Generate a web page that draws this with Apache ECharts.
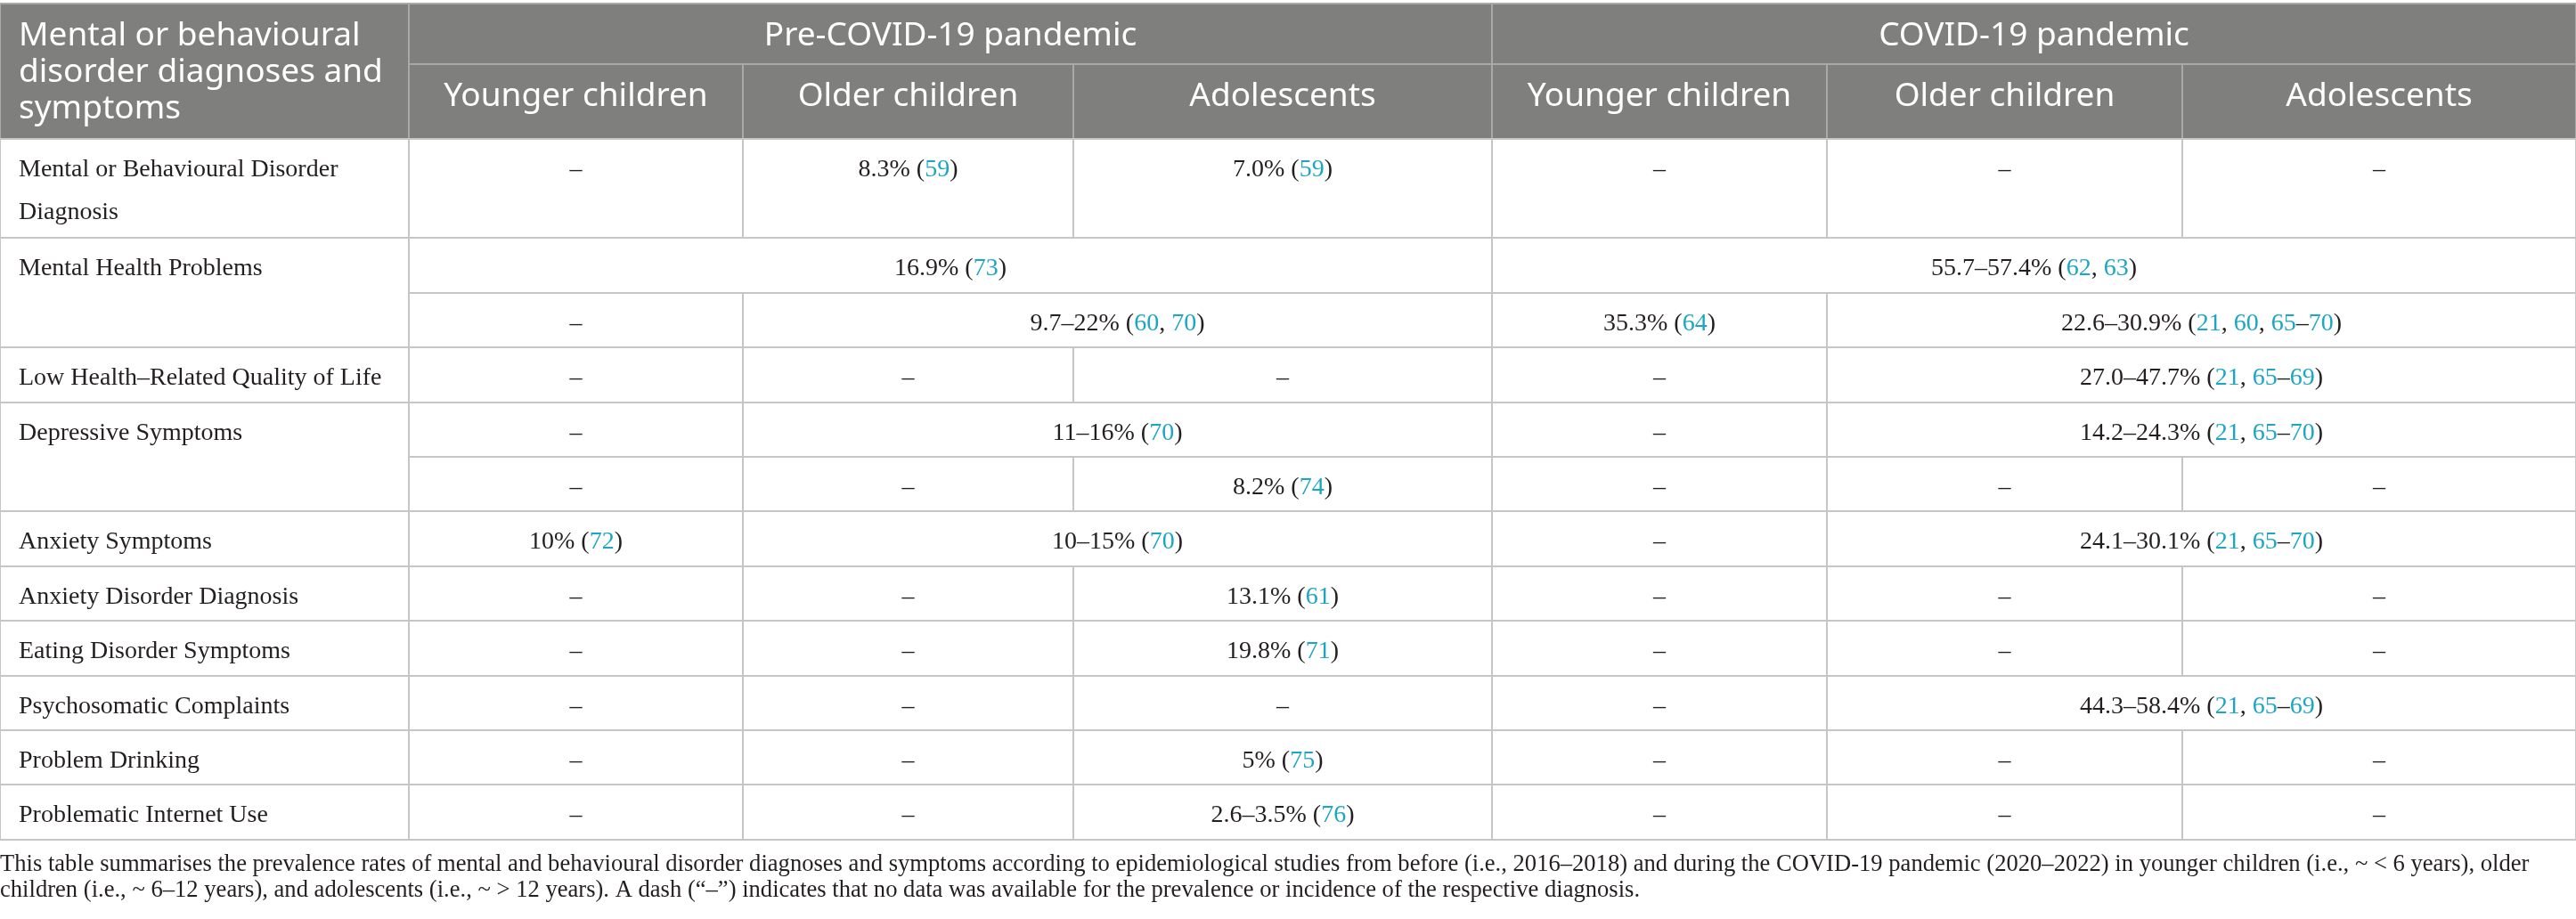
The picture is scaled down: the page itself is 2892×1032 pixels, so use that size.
<!DOCTYPE html>
<html>
<head>
<meta charset="utf-8">
<title>Prevalence of mental and behavioural disorders</title>
<script src="https://cdn.jsdelivr.net/npm/echarts@6/dist/echarts.min.js"></script>
<style>
    html, body { margin: 0; padding: 0; background: #fff; }
    #table-chart { width: 2892px; height: 1032px; }
</style>
</head>
<body>
<div id="table-chart"></div>
<script>
// table content
var periods = ['Pre-COVID-19 pandemic', 'COVID-19 pandemic'],
    ageGroups = ['Younger children', 'Older children', 'Adolescents'],
    cornerLabel = 'Mental or behavioural\ndisorder diagnoses and\nsymptoms',
    conditions = [
        'Mental or Behavioural Disorder\nDiagnosis',
        'Mental Health Problems',
        'Low Health\u2013Related Quality of Life',
        'Depressive Symptoms',
        'Anxiety Symptoms',
        'Anxiety Disorder Diagnosis',
        'Eating Disorder Symptoms',
        'Psychosomatic Complaints',
        'Problem Drinking',
        'Problematic Internet Use'
    ],
    conditionSpans = [1, 2, 1, 2, 1, 1, 1, 1, 1, 1];

// one entry per sub-row: [text, colspan]
var prevalenceRows = [
    [['–', 1], ['8.3% (59)', 1], ['7.0% (59)', 1], ['–', 1], ['–', 1], ['–', 1]],
    [['16.9% (73)', 3], ['55.7–57.4% (62, 63)', 3]],
    [['–', 1], ['9.7–22% (60, 70)', 2], ['35.3% (64)', 1], ['22.6–30.9% (21, 60, 65–70)', 2]],
    [['–', 1], ['–', 1], ['–', 1], ['–', 1], ['27.0–47.7% (21, 65–69)', 2]],
    [['–', 1], ['11–16% (70)', 2], ['–', 1], ['14.2–24.3% (21, 65–70)', 2]],
    [['–', 1], ['–', 1], ['8.2% (74)', 1], ['–', 1], ['–', 1], ['–', 1]],
    [['10% (72)', 1], ['10–15% (70)', 2], ['–', 1], ['24.1–30.1% (21, 65–70)', 2]],
    [['–', 1], ['–', 1], ['13.1% (61)', 1], ['–', 1], ['–', 1], ['–', 1]],
    [['–', 1], ['–', 1], ['19.8% (71)', 1], ['–', 1], ['–', 1], ['–', 1]],
    [['–', 1], ['–', 1], ['–', 1], ['–', 1], ['44.3–58.4% (21, 65–69)', 2]],
    [['–', 1], ['–', 1], ['5% (75)', 1], ['–', 1], ['–', 1], ['–', 1]],
    [['–', 1], ['–', 1], ['2.6–3.5% (76)', 1], ['–', 1], ['–', 1], ['–', 1]]
];

var captionLines = [
    'This table summarises the prevalence rates of mental and behavioural disorder diagnoses and symptoms according to epidemiological studies from before (i.e., 2016\u20132018) and during the COVID-19 pandemic (2020\u20132022) in younger children (i.e., ~ < 6 years), older',
    'children (i.e., ~ 6\u201312 years), and adolescents (i.e., ~ > 12 years). A dash (\u201c\u2013\u201d) indicates that no data was available for the prevalence or incidence of the respective diagnosis.'
];

// layout (axis units = px)
var colEdges = [0, 459, 834, 1205, 1675, 2051, 2450, 2892],
    headEdges = [4, 72, 156],
    rowEdges = [156, 267, 329, 390, 452, 513, 574, 636, 697, 759, 820, 881, 943];

var headFont = '37px "Noto Sans"',
    bodyFont = '28px "Liberation Serif"',
    headColor = '#7f807e',
    headLine = '#a9aaa8',
    bodyLine = '#c6c6c6',
    textColor = '#231f20',
    linkColor = '#1ba7c4';

var cells = [];

var addCell = function (x0, x1, y0, y1, text, kind) {
    cells.push({ value: [x0, x1, y0, y1], text: text, kind: kind });
};

// header
addCell(colEdges[0], colEdges[1], headEdges[0], headEdges[2], cornerLabel, 'corner');
periods.forEach(function (p, i) {
    addCell(colEdges[1 + i * 3], colEdges[4 + i * 3], headEdges[0], headEdges[1], p, 'head');
    ageGroups.forEach(function (g, j) {
        addCell(colEdges[1 + i * 3 + j], colEdges[2 + i * 3 + j], headEdges[1], headEdges[2], g, 'head');
    });
});

// body
var sub = 0;
conditions.forEach(function (c, i) {
    addCell(colEdges[0], colEdges[1], rowEdges[sub], rowEdges[sub + conditionSpans[i]], c, 'label');
    sub += conditionSpans[i];
});
prevalenceRows.forEach(function (row, r) {
    var col = 1;
    row.forEach(function (cell) {
        addCell(colEdges[col], colEdges[col + cell[1]], rowEdges[r], rowEdges[r + 1], cell[0], 'value');
        col += cell[1];
    });
});

// colour the reference numbers inside the brackets
var richify = function (s) {
    return s.replace(/\(([^)]*)\)/, function (m, inner) {
        return '(' + inner.replace(/\d+/g, function (d) { return '{c|' + d + '}'; }) + ')';
    });
};

var renderCell = function (params, api) {
    var cell = cells[params.dataIndex],
        p0 = api.coord([api.value(0), api.value(2)]),
        p1 = api.coord([api.value(1), api.value(3)]),
        isHead = cell.kind === 'head' || cell.kind === 'corner',
        textStyle;

    if (cell.kind === 'head') {
        textStyle = { x: (p0[0] + p1[0]) / 2, y: p0[1] + 36, align: 'center', verticalAlign: 'middle', font: headFont, fill: '#fff', text: cell.text };
    } else if (cell.kind === 'corner') {
        textStyle = { x: p0[0] + 21, y: p0[1] + 16, align: 'left', verticalAlign: 'top', lineHeight: 41, font: headFont, fill: '#fff', text: cell.text };
    } else if (cell.kind === 'label') {
        textStyle = { x: p0[0] + 21, y: p0[1] + 10.5, align: 'left', verticalAlign: 'top', lineHeight: 48, font: bodyFont, fill: textColor, text: cell.text };
    } else {
        textStyle = {
            x: (p0[0] + p1[0]) / 2, y: p0[1] + 10.5, align: 'center', verticalAlign: 'top', lineHeight: 48,
            font: bodyFont, fill: textColor, text: richify(cell.text),
            rich: { c: { fill: linkColor, font: bodyFont, lineHeight: 48 } }
        };
    }

    return {
        type: 'group',
        children: [{
            type: 'rect',
            shape: { x: p0[0], y: p0[1], width: p1[0] - p0[0], height: p1[1] - p0[1] },
            style: { fill: isHead ? headColor : '#fff', stroke: isHead ? headLine : bodyLine, lineWidth: 2 }
        }, {
            type: 'text',
            style: textStyle
        }]
    };
};

var tableChart = echarts.init(document.getElementById('table-chart'), null, { renderer: 'canvas' });

tableChart.setOption({
    animation: false,
    title: {
        text: captionLines.join('\n'),
        left: 0,
        top: 957,
        padding: 0,
        textStyle: {
            fontFamily: 'Liberation Serif',
            fontSize: 26.6,
            fontWeight: 'normal',
            lineHeight: 29,
            color: textColor
        }
    },
    grid: { left: 0, right: 0, top: 0, bottom: 0 },
    xAxis: { type: 'value', min: 0, max: 2892, show: false },
    yAxis: { type: 'value', min: 0, max: 1032, inverse: true, show: false },
    series: [{
        type: 'custom',
        clip: false,
        silent: true,
        renderItem: renderCell,
        encode: { x: [0, 1], y: [2, 3] },
        data: cells.map(function (c) { return c.value; })
    }]
});
</script>
</body>
</html>
